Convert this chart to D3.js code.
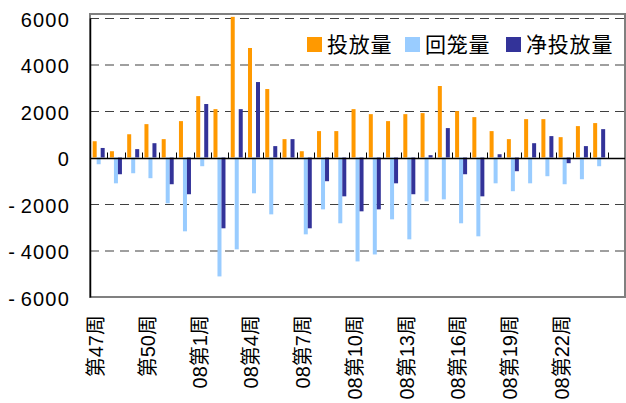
<!DOCTYPE html>
<html><head><meta charset="utf-8">
<script src="https://cdn.jsdelivr.net/npm/d3@7"></script>
<style>
html,body{margin:0;padding:0;background:#fff;}
svg{display:block;}
text{font-family:"Liberation Sans","Noto Sans CJK SC",sans-serif;fill:#000;}
</style></head><body>
<svg id="chart" width="626" height="403"></svg>
<script>
const categories = ["第47周","第48周","第49周","第50周","第51周","第52周",
  "08第1周","08第2周","08第3周","08第4周","08第5周","08第6周","08第7周","08第8周",
  "08第9周","08第10周","08第11周","08第12周","08第13周","08第14周","08第15周",
  "08第16周","08第17周","08第18周","08第19周","08第20周","08第21周","08第22周",
  "08第23周","08第24周","08第25周"];
const xTickLabels = ["第47周","第50周","08第1周","08第4周","08第7周","08第10周",
  "08第13周","08第16周","08第19周","08第22周"];
const seriesNames = ["投放量","回笼量","净投放量"];
const putValues = [700,270,1000,1435,790,1565,2640,2080,6050,4710,2945,790,270,1135,1135,
  2080,1865,1565,1865,1910,3075,1995,1737,1135,790,1650,1650,875,1350,1480,null];
const recallValues = [-290,-1110,-677,-890,-1970,-3175,-375,-5115,-3950,-1540,-2445,0,-3305,-2230,-2830,
  -4470,-4170,-2660,-3520,-1885,-1800,-2830,-3390,-1110,-1450,-1110,-805,-1150,-935,-375,null];
const netValues = [410,-720,360,615,-1150,-1580,2300,-3045,2080,3245,490,790,-3045,-1020,-1670,
  -2315,-2230,-1110,-1580,100,1265,-720,-1670,140,-590,615,920,-245,490,1220,null];
const yTicks = [-6000,-4000,-2000,0,2000,4000,6000];
const gridTicks = [-4000,-2000,2000,4000,6000];
const colors = ["#FF9900","#99CCFF","#333399"];

const svg = d3.select("#chart");
svg.append("rect").attr("width",626).attr("height",403).attr("fill","#fff");

const L = 90, R = 625, T = 14, B = 297;
const x = d3.scaleBand().domain(categories).range([L, R]).padding(0);
const y = d3.scaleLinear().domain([-6000, 6000]).range([297, 18]);
const bw = x.bandwidth();
const xs = d3.scaleBand().domain(seriesNames).range([bw*0.155, bw*0.155 + 12]).padding(0);

// plot border
svg.append("rect").attr("x",L).attr("y",T).attr("width",R-L).attr("height",B-T)
  .attr("fill","none").attr("stroke","#808080").attr("stroke-width",2);

// gridlines
const grid = svg.append("g").attr("transform",`translate(${L},0)`)
  .call(d3.axisLeft(y).tickValues(gridTicks).tickSize(-(R-L)).tickFormat(""));
grid.select(".domain").remove();
grid.selectAll("line").attr("stroke","#404040").attr("stroke-width",1.2).attr("stroke-dasharray","9,6");

// bars
const rows = categories.map((c,i)=>({cat:c, vals:[putValues[i],recallValues[i],netValues[i]]}));
const g = svg.append("g");
rows.forEach(r=>{
  r.vals.forEach((v,j)=>{
    if(v===null || v===0) return;
    g.append("rect")
      .attr("x", x(r.cat) + xs(seriesNames[j]))
      .attr("width", xs.bandwidth())
      .attr("y", y(Math.max(0,v)))
      .attr("height", Math.abs(y(v)-y(0)))
      .attr("fill", colors[j]);
  });
});

// zero axis with boundary ticks
const y0 = Math.round(y(0))+0.5;
svg.append("line").attr("x1",L).attr("x2",R).attr("y1",y0).attr("y2",y0).attr("stroke","#000").attr("stroke-width",1.5);
categories.slice(1).forEach(c=>{
  const xx = Math.round(x(c))+0.5;
  svg.append("line").attr("x1",xx).attr("x2",xx).attr("y1",y0).attr("y2",y0-6).attr("stroke","#000").attr("stroke-width",1);
});

// left axis
const ya = svg.append("g").attr("transform",`translate(${L},0)`)
  .call(d3.axisLeft(y).tickValues(yTicks).tickSize(0).tickPadding(20).tickFormat(d=>String(Math.abs(d))));
ya.select(".domain").attr("stroke","#000").attr("stroke-width",1.5);
ya.selectAll("text").attr("font-size","20px").attr("letter-spacing","1.2px").attr("dy","0.42em")
  .style("font-family","Liberation Sans");
ya.selectAll(".tick").each(function(d){
  if(d<0){
    const t = d3.select(this).select("text");
    const xx = +t.attr("x") || -20;
    d3.select(this).append("text").attr("x", xx - 55).attr("dy","0.42em").attr("font-size","20px")
      .attr("text-anchor","end").style("font-family","Liberation Sans").text("-");
  }
});

// x labels
const xa = svg.append("g").attr("transform",`translate(0,${B})`)
  .call(d3.axisBottom(x).tickValues(xTickLabels).tickSize(0));
xa.select(".domain").remove();
xa.selectAll("text").attr("transform","rotate(-90)").attr("text-anchor","end")
  .attr("x",-18).attr("y",0).attr("dy","0.22em").attr("font-size","20px");

// legend
const legendX = [307, 405, 506];
const lg = svg.append("g");
seriesNames.forEach((n,j)=>{
  lg.append("rect").attr("x",legendX[j]).attr("y",37).attr("width",15).attr("height",15).attr("fill",colors[j]);
  lg.append("text").attr("x",legendX[j]+20).attr("y",44.5).attr("dy","0.36em")
    .attr("font-size","21px").attr("letter-spacing","0.8px")
    .style("font-family","Noto Sans CJK SC").text(n);
});
</script>
</body></html>
